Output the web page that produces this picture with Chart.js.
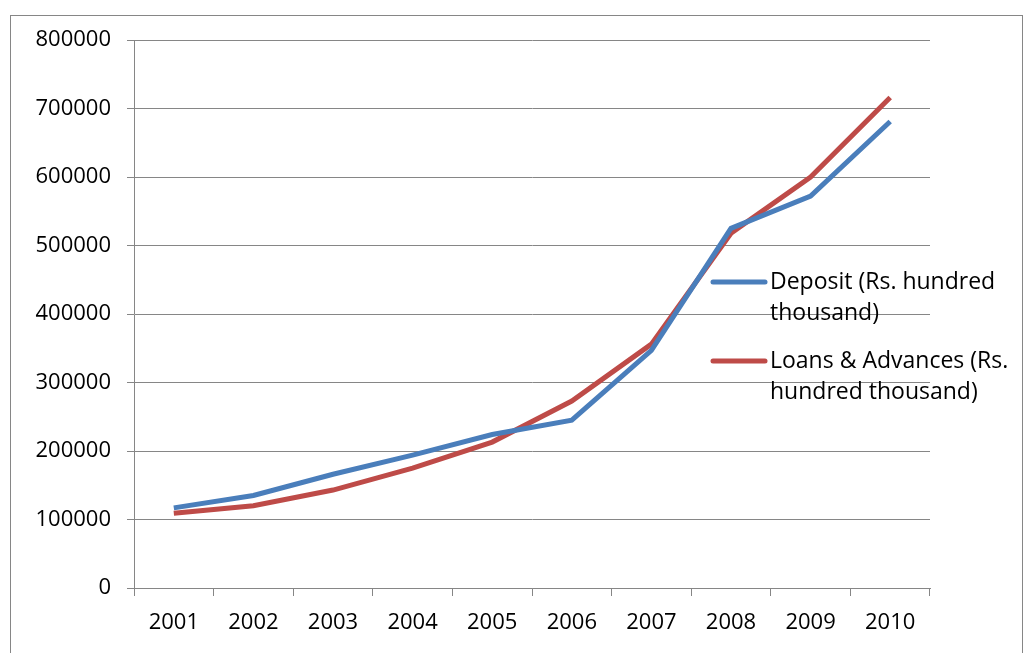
<!DOCTYPE html>
<html>
<head>
<meta charset="utf-8">
<script src="https://cdn.jsdelivr.net/npm/chart.js@4/dist/chart.umd.min.js"></script>
<style>
  html, body { margin: 0; padding: 0; background: #fff; }
  #wrap { width: 1024px; height: 653px; }
</style>
</head>
<body>
<div id="wrap"><canvas id="lineChart" width="1024" height="653"></canvas></div>
<script>
/* data */
var years = ['2001', '2002', '2003', '2004', '2005', '2006', '2007', '2008', '2009', '2010'];
var deposit = [117000, 135000, 166000, 194000, 224000, 245000, 347000, 525000, 572000, 681000];
var loans = [109000, 120000, 143000, 175000, 213000, 273000, 356000, 518000, 600000, 716000];
var seriesNames = ['Deposit (Rs. hundred thousand)', 'Loans & Advances (Rs. hundred thousand)'];
var yMin = 0, yMax = 800000, yStep = 100000;

var gridGrey = '#868686';
var fontFam = "'Open Sans', 'Noto Sans', sans-serif";

// outer frame + legend drawn on top of the plot, like the Excel original
var frameAndLegend = {
  id: 'frameAndLegend',
  afterDraw: function(chart) {
    var c = chart.ctx;
    c.save();
    c.strokeStyle = gridGrey;
    c.lineWidth = 1;
    c.strokeRect(10.5, 15.5, 1012, 700);

    c.font = '23px ' + fontFam;
    c.fillStyle = '#000';
    c.textBaseline = 'middle';
    var x0 = 713, y0 = 282, gap = 79, lineH = 31, maxW = 252;
    chart.data.datasets.forEach(function(ds, i) {
      var y = y0 + i * gap;
      c.strokeStyle = ds.borderColor;
      c.lineWidth = 5;
      c.lineCap = 'round';
      c.beginPath();
      c.moveTo(x0, y);
      c.lineTo(x0 + 52, y);
      c.stroke();
      // wrap label
      var words = ds.label.split(' ');
      var lines = [], cur = '';
      words.forEach(function(w) {
        var t = cur ? cur + ' ' + w : w;
        if (c.measureText(t).width > maxW && cur) { lines.push(cur); cur = w; }
        else cur = t;
      });
      lines.push(cur);
      lines.forEach(function(l, k) {
        c.fillText(l, x0 + 57, y + k * lineH);
      });
    });
    c.restore();
  }
};

var ctx = document.getElementById('lineChart');
var myChart = new Chart(ctx, {
  type: 'line',
  data: {
    labels: years,
    datasets: [{
      label: seriesNames[0],
      data: deposit,
      borderColor: '#4a7ebb',
      borderWidth: 5,
      pointRadius: 0,
      tension: 0
    }, {
      label: seriesNames[1],
      data: loans,
      borderColor: '#be4b48',
      borderWidth: 5,
      pointRadius: 0,
      tension: 0
    }]
  },
  options: {
    responsive: false,
    animation: false,
    layout: { padding: { top: 40, right: 94, left: 0, bottom: 0 } },
    plugins: {
      legend: { display: false },
      tooltip: { enabled: false }
    },
    scales: {
      x: {
        offset: true,
        grid: { offset: true, drawOnChartArea: false, drawTicks: true, tickLength: 8, color: gridGrey },
        border: { display: true, color: gridGrey },
        ticks: { color: '#000', font: { family: fontFam, size: 22 }, padding: 14, maxRotation: 0 },
        afterFit: function(s) { s.height = 65; }
      },
      y: {
        min: yMin,
        max: yMax,
        grid: { color: gridGrey, tickLength: 7 },
        border: { display: true, color: gridGrey },
        ticks: {
          stepSize: yStep,
          color: '#000',
          font: { family: fontFam, size: 22 },
          padding: 16,
          callback: function(v) { return String(v); }
        },
        afterFit: function(s) { s.width = 134; }
      }
    }
  },
  plugins: [frameAndLegend]
});
</script>
</body>
</html>
